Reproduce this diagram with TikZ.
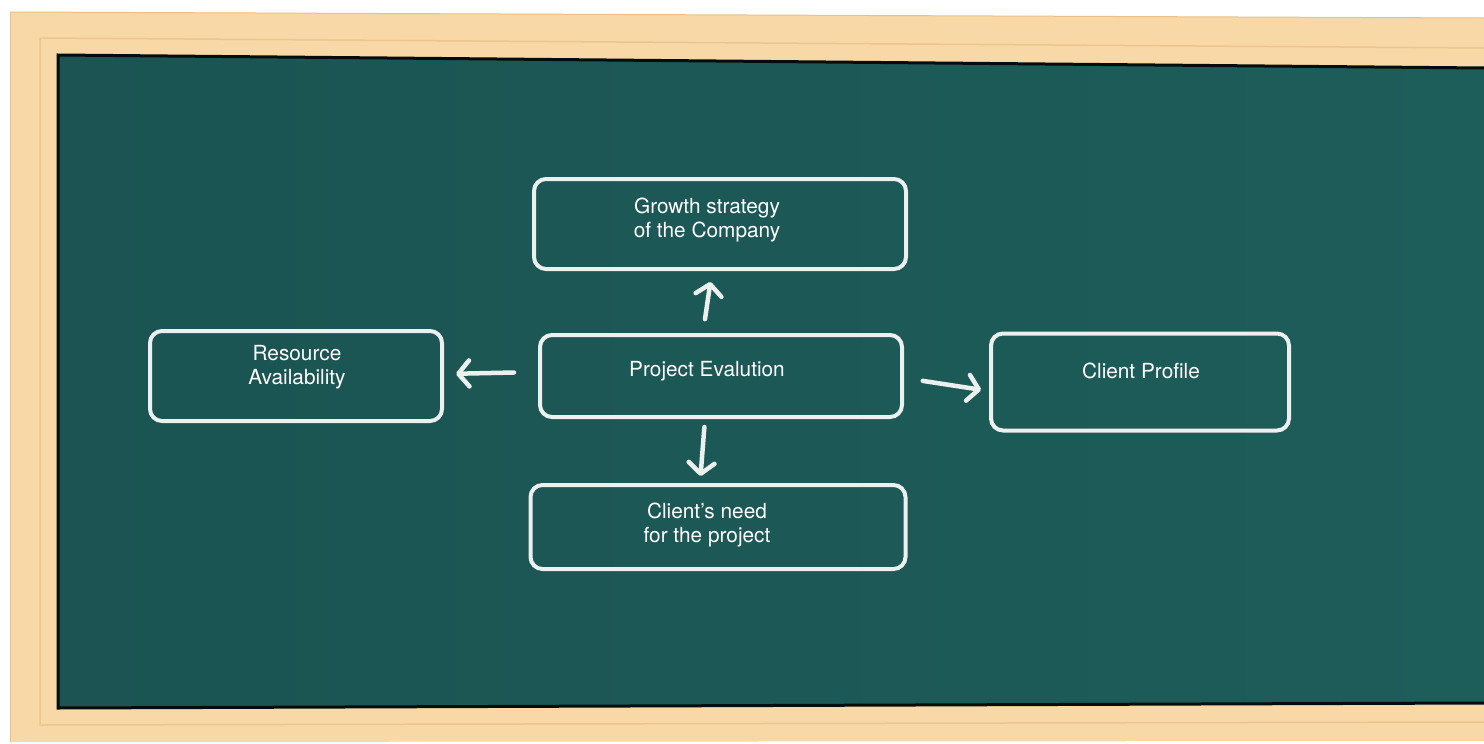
\documentclass[tikz,border=0pt]{standalone}
\usepackage{fontspec}
\setmainfont{TeX Gyre Heros}
\usetikzlibrary{arrows.meta}
\definecolor{board}{HTML}{1B5452}
\definecolor{boardR}{HTML}{1D5D5A}
\definecolor{wood}{HTML}{F8D8A6}
\definecolor{woodD}{HTML}{EBC088}
\definecolor{chalk}{HTML}{ECF0EE}
\tikzset{
  chalkbox/.style={draw=chalk, line width=4pt, rounded corners=12pt, inner sep=0pt},
  chalktext/.style={text=white, align=center, font=\fontsize{20.8}{24}\selectfont},
  chalkarrow/.style={draw=chalk, line width=4.5pt, line cap=round, line join=round,
    -{Straight Barb[length=11pt, width=26pt, line cap=round, line join=round]}}
}
\begin{document}
\begin{tikzpicture}[x=1pt,y=-1pt]
\useasboundingbox (0,0) rectangle (1484,744);
\fill[white] (0,0) rectangle (1484,744);
% wooden frame
\fill[wood] (10,12) -- (1484,18) -- (1484,741) -- (10,742) -- cycle;
\draw[woodD, line width=1pt] (10,12) -- (1484,18);
\draw[woodD, line width=1pt] (10,12) -- (10,742);
\draw[woodD!80!wood, line width=1.5pt] (40,38) -- (1484,48);
\draw[woodD!80!wood, line width=1.5pt] (40,38) -- (40,725) -- (1484,722);
% board
\shade[left color=board, right color=boardR] (58,55) -- (1484,68) -- (1484,703) -- (58,708) -- cycle;
\draw[black!85!board, line width=3pt] (1484,68) -- (58,55) -- (58,708) -- (1484,703);
% boxes
\node[chalkbox, minimum width=372pt, minimum height=90pt] (growth) at (720,224) {};
\node[chalkbox, minimum width=362pt, minimum height=82pt] (proj) at (721,376) {};
\node[chalkbox, minimum width=292pt, minimum height=90pt] (res) at (296,376) {};
\node[chalkbox, minimum width=298pt, minimum height=97pt] (client) at (1140,382) {};
\node[chalkbox, minimum width=375pt, minimum height=84pt] (need) at (718,527) {};
% texts
\node[chalktext] (tgrowth) at (707,220) {Growth strategy\\of the Company};
\node[chalktext] (tproj) at (707,371) {Project Evalution};
\node[chalktext] (tres) at (297,367) {Resource\\Availability};
\node[chalktext] (tclient) at (1141,371) {Client Profile};
\node[chalktext] (tneed) at (707,525) {Client’s need\\for the project};
% arrows
\draw[chalkarrow, shorten <=14pt, shorten >=11pt] ([xshift=-18pt]proj.north) -- ([xshift=-8pt]growth.south);
\draw[chalkarrow, shorten <=24pt, shorten >=12pt] ([yshift=4pt]proj.west) -- ([yshift=2pt]res.east);
\draw[chalkarrow, shorten <=19pt, shorten >=8pt] ([yshift=-2pt]proj.east) -- ([yshift=-9pt]client.west);
\draw[chalkarrow, shorten <=8pt, shorten >=7pt] ([xshift=-16pt]proj.south) -- ([xshift=-18pt]need.north);
\end{tikzpicture}
\end{document}
